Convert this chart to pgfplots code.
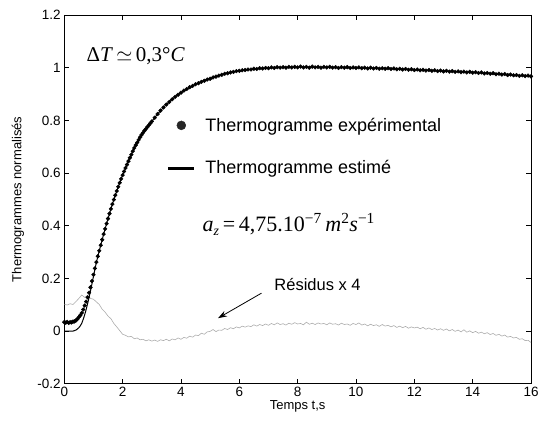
\documentclass[border=0pt]{standalone}
\usepackage{pgfplots}
\pgfplotsset{compat=1.18}
\usepackage{fontspec}
\setmainfont{Liberation Sans}
\newfontfamily\tnr{Liberation Serif}
\usetikzlibrary{arrows.meta}
\definecolor{resgray}{RGB}{172,172,172}
\begin{document}
\begin{tikzpicture}
\begin{axis}[
  name=ax,
  scale only axis,
  width=467bp, height=369bp,
  xmin=0, xmax=16, ymin=-0.2, ymax=1.2,
  xtick={0,2,...,16},
  ytick={-0.2,0,0.2,0.4,0.6,0.8,1,1.2},
  /pgf/number format/assume math mode=true,
  tick label style={font=\fontsize{13.5bp}{16bp}\selectfont},
  major tick length=5bp,
  tick style={black, line width=0.6bp},
  axis line style={black, line width=0.8bp},
  tick align=inside,
  every axis x label/.style={at={(axis description cs:0.5,-0.0623)}, anchor=center},
  every axis y label/.style={at={(axis description cs:-0.099,0.5)}, rotate=90, anchor=center},
  label style={font=\fontsize{13bp}{15bp}\selectfont},
  xlabel={Temps t,s},
  ylabel={Thermogrammes normalisés},
  reverse legend,
  legend style={draw=none, fill=none, at={(axis description cs:0.2193,0.7266)}, anchor=north west,
    inner sep=0pt, font=\fontsize{18bp}{21bp}\selectfont, row sep=24bp, cells={anchor=west}},
]
% residuals x 4
\addplot[resgray, line width=0.6bp, forget plot] coordinates {
(0.0,0.102)(0.1,0.099)(0.2,0.104)(0.3,0.101)(0.4,0.112)(0.5,0.124)(0.6,0.137)(0.7,0.128)(0.8,0.136)(0.9,0.124)
(1.0,0.121)(1.1,0.111)(1.2,0.101)(1.3,0.083)(1.4,0.072)(1.5,0.057)(1.6,0.047)(1.7,0.029)(1.8,0.016)(1.9,0.002)
(2.0,-0.012)(2.1,-0.016)(2.2,-0.022)(2.3,-0.020)(2.4,-0.029)(2.5,-0.026)(2.6,-0.033)(2.7,-0.031)(2.8,-0.037)(2.9,-0.033)
(3.0,-0.038)(3.1,-0.034)(3.2,-0.039)(3.3,-0.033)(3.4,-0.036)(3.5,-0.031)(3.6,-0.037)(3.7,-0.030)(3.8,-0.033)(3.9,-0.026)
(4.0,-0.031)(4.1,-0.024)(4.2,-0.027)(4.3,-0.019)(4.4,-0.023)(4.5,-0.015)(4.6,-0.017)(4.7,-0.008)(4.8,-0.012)(4.9,-0.003)
(5.0,-0.001)(5.1,0.006)(5.2,-0.002)(5.3,0.004)(5.4,0.003)(5.5,0.010)(5.6,0.006)(5.7,0.013)(5.8,0.009)(5.9,0.016)
(6.0,0.012)(6.1,0.019)(6.2,0.015)(6.3,0.020)(6.4,0.017)(6.5,0.024)(6.6,0.019)(6.7,0.025)(6.8,0.021)(6.9,0.027)
(7.0,0.022)(7.1,0.029)(7.2,0.024)(7.3,0.031)(7.4,0.025)(7.5,0.028)(7.6,0.023)(7.7,0.030)(7.8,0.026)(7.9,0.032)
(8.0,0.027)(8.1,0.029)(8.2,0.024)(8.3,0.034)(8.4,0.026)(8.5,0.030)(8.6,0.025)(8.7,0.031)(8.8,0.027)(8.9,0.029)
(9.0,0.024)(9.1,0.031)(9.2,0.026)(9.3,0.028)(9.4,0.023)(9.5,0.030)(9.6,0.025)(9.7,0.027)(9.8,0.022)(9.9,0.029)
(10.0,0.025)(10.1,0.031)(10.2,0.023)(10.3,0.027)(10.4,0.020)(10.5,0.026)(10.6,0.021)(10.7,0.024)(10.8,0.018)(10.9,0.025)
(11.0,0.019)(11.1,0.022)(11.2,0.016)(11.3,0.021)(11.4,0.014)(11.5,0.019)(11.6,0.013)(11.7,0.018)(11.8,0.011)(11.9,0.016)
(12.0,0.012)(12.1,0.015)(12.2,0.009)(12.3,0.014)(12.4,0.007)(12.5,0.012)(12.6,0.006)(12.7,0.010)(12.8,0.004)(12.9,0.009)
(13.0,0.003)(13.1,0.008)(13.2,0.001)(13.3,0.006)(13.4,-0.001)(13.5,0.004)(13.6,-0.003)(13.7,0.005)(13.8,-0.004)(13.9,0.001)
(14.0,-0.006)(14.1,-0.001)(14.2,-0.008)(14.3,-0.004)(14.4,-0.010)(14.5,-0.006)(14.6,-0.013)(14.7,-0.009)(14.8,-0.016)(14.9,-0.012)
(15.0,-0.019)(15.1,-0.015)(15.2,-0.023)(15.3,-0.020)(15.4,-0.026)(15.5,-0.024)(15.6,-0.031)(15.7,-0.029)(15.8,-0.036)(15.9,-0.035)
(16.0,-0.043)
};
% estimated thermogram
\addplot[black, line width=1bp, smooth,
  legend image code/.code={\path[draw=none] (0bp,0bp) -- (35bp,0bp); \draw[black, line width=3bp] (0bp,0bp) -- (26bp,0bp);}] coordinates {
(0,0)(0.3,0)(0.35,0.002)(0.4,0.004)(0.45,0.008)(0.5,0.013)(0.55,0.02)(0.6,0.03)(0.65,0.045)(0.7,0.062)
(0.75,0.082)(0.8,0.104)(0.85,0.128)(0.9,0.153)(0.95,0.18)(1.0,0.207)(1.05,0.234)(1.1,0.26)(1.15,0.283)(1.2,0.305)
(1.3,0.347)(1.4,0.388)(1.5,0.427)(1.6,0.464)(1.7,0.499)(1.8,0.532)(1.9,0.563)(2.0,0.592)(2.2,0.645)(2.4,0.695)
(2.6,0.736)(2.8,0.768)(3.0,0.796)(3.2,0.824)(3.4,0.849)(3.6,0.870)(3.8,0.889)(4.0,0.905)(4.5,0.937)(5.0,0.958)
(5.5,0.977)(6,0.988)(7,0.999)(8,1.002)(9,1.001)(10,0.999)(11,0.997)(12,0.992)(13,0.987)(14,0.982)(15,0.974)(16,0.968)
};
\addlegendentry{Thermogramme estimé}
% experimental thermogram
\addplot[only marks, mark=*, mark size=1.9bp, black,
  legend image code/.code={\path[draw=none] (0bp,0bp) -- (35bp,0bp); \fill[black!85] (13bp,0bp) circle (4.5bp);}] coordinates {
(0.00,0.034)(0.05,0.032)(0.10,0.035)(0.15,0.031)(0.20,0.034)(0.25,0.033)(0.30,0.036)(0.35,0.037)(0.40,0.040)(0.45,0.046)
(0.50,0.053)(0.55,0.060)(0.60,0.069)(0.65,0.082)(0.70,0.097)(0.75,0.112)(0.80,0.128)(0.85,0.146)(0.90,0.166)(0.95,0.190)
(1.00,0.214)(1.05,0.238)(1.10,0.262)(1.15,0.284)(1.20,0.305)(1.25,0.326)(1.30,0.347)(1.35,0.368)(1.40,0.388)(1.45,0.408)
(1.50,0.427)(1.55,0.446)(1.60,0.464)(1.65,0.482)(1.70,0.499)(1.75,0.516)(1.80,0.532)(1.85,0.548)(1.90,0.563)(1.95,0.578)
(2.00,0.592)(2.05,0.606)(2.10,0.619)(2.15,0.632)(2.20,0.645)(2.25,0.658)(2.30,0.670)(2.35,0.683)(2.40,0.695)(2.45,0.706)
(2.50,0.716)(2.55,0.726)(2.60,0.736)(2.65,0.745)(2.70,0.753)(2.75,0.761)(2.80,0.768)(2.85,0.775)(2.90,0.782)(2.95,0.789)
(3.00,0.796)(3.1,0.810)(3.2,0.824)(3.3,0.837)(3.4,0.849)(3.5,0.860)(3.6,0.870)(3.7,0.880)(3.8,0.889)(3.9,0.897)
(4.0,0.905)(4.1,0.913)(4.2,0.919)(4.3,0.926)(4.4,0.931)(4.5,0.937)(4.6,0.941)(4.7,0.946)(4.8,0.950)(4.9,0.955)
(5.0,0.958)(5.1,0.963)(5.2,0.966)(5.3,0.970)(5.4,0.973)(5.5,0.977)(5.6,0.979)(5.7,0.982)(5.8,0.984)(5.9,0.987)
(6.0,0.988)(6.1,0.990)(6.2,0.991)(6.3,0.993)(6.4,0.993)(6.5,0.996)(6.6,0.995)(6.7,0.998)(6.8,0.997)(6.9,0.999)
(7.0,0.998)(7.1,1.001)(7.2,0.999)(7.3,1.002)(7.4,1.000)(7.5,1.002)(7.6,1.000)(7.7,1.003)(7.8,1.001)(7.9,1.003)
(8.0,1.001)(8.1,1.004)(8.2,1.001)(8.3,1.003)(8.4,1.000)(8.5,1.004)(8.6,1.001)(8.7,1.003)(8.8,1.000)(8.9,1.003)
(9.0,1.001)(9.1,1.003)(9.2,1.000)(9.3,1.002)(9.4,0.999)(9.5,1.002)(9.6,1.000)(9.7,1.002)(9.8,0.999)(9.9,1.001)
(10.0,0.999)(10.1,1.001)(10.2,0.998)(10.3,1.000)(10.4,0.997)(10.5,1.000)(10.6,0.997)(10.7,0.999)(10.8,0.996)(10.9,0.998)
(11.0,0.996)(11.1,0.998)(11.2,0.995)(11.3,0.997)(11.4,0.994)(11.5,0.996)(11.6,0.993)(11.7,0.995)(11.8,0.992)(11.9,0.994)
(12.0,0.991)(12.1,0.993)(12.2,0.990)(12.3,0.992)(12.4,0.989)(12.5,0.991)(12.6,0.988)(12.7,0.990)(12.8,0.987)(12.9,0.989)
(13.0,0.986)(13.1,0.988)(13.2,0.985)(13.3,0.987)(13.4,0.984)(13.5,0.986)(13.6,0.983)(13.7,0.985)(13.8,0.982)(13.9,0.984)
(14.0,0.981)(14.1,0.983)(14.2,0.980)(14.3,0.982)(14.4,0.978)(14.5,0.980)(14.6,0.977)(14.7,0.979)(14.8,0.975)(14.9,0.977)
(15.0,0.974)(15.1,0.976)(15.2,0.972)(15.3,0.974)(15.4,0.971)(15.5,0.972)(15.6,0.969)(15.7,0.971)(15.8,0.968)(15.9,0.970)
(16.0,0.967)
};
\addlegendentry{Thermogramme expérimental}
% annotations
\node[anchor=west, inner sep=0pt, font=\fontsize{21bp}{24bp}\selectfont] at (axis cs:0.76,1.044)
  {{\tnr Δ\textit{T}}$\,\simeq\,${\tnr 0,3°\textit{C}}};
\node[anchor=west, inner sep=0pt, font=\fontsize{22bp}{26bp}\selectfont\tnr] at (axis cs:4.74,0.405)
  {\textit{a}\raisebox{-0.35ex}{\fontsize{14bp}{16bp}\selectfont\textit{z}}\,=\,4,75.10\textsuperscript{−7}\,\textit{m}\textsuperscript{2}\textit{s}\textsuperscript{−1}};
\node[anchor=west, inner sep=0pt, font=\fontsize{16.5bp}{19bp}\selectfont] at (axis cs:7.2,0.176) {Résidus x 4};
\draw[black, line width=0.8bp, -{Stealth[length=9bp,width=6bp]}] (axis cs:6.76,0.144) -- (axis cs:5.27,0.049);
\end{axis}
\pgfresetboundingbox
\path ([shift={(-64.3bp,-41bp)}]ax.south west) rectangle ([shift={(11bp,15bp)}]ax.north east);
\end{tikzpicture}
\end{document}
